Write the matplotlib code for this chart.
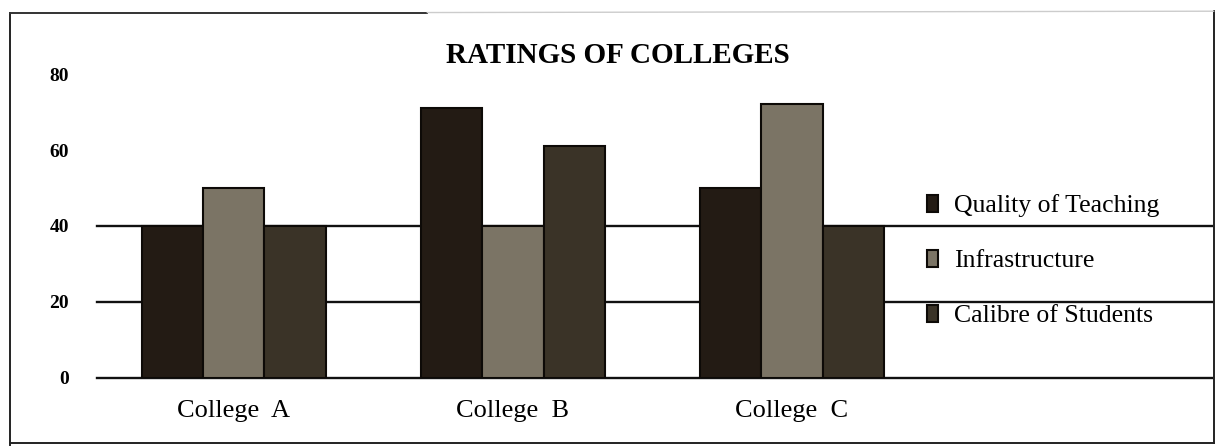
import numpy as np
import matplotlib
matplotlib.use('Agg')
import matplotlib.pyplot as plt
from matplotlib.lines import Line2D

plt.rcParams['font.family'] = ['Liberation Serif', 'DejaVu Serif']

# ratings per college
colleges = ['College  A', 'College  B', 'College  C']
quality = [40, 71, 50]
infrastructure = [50, 40, 72]
calibre = [40, 61, 40]
series_names = ['Quality of Teaching', 'Infrastructure', 'Calibre of Students']
y_ticks = [0, 20, 40, 60, 80]
grid_levels = [0, 20, 40]

colors = ['#231b14', '#7b7465', '#3a3327']

fig = plt.figure(figsize=(12.21, 4.48), dpi=100)
ax = fig.add_axes([0.0794, 0.1563, 0.9132, 0.6785])

x = np.arange(len(colleges))
w = 0.22
for lvl in grid_levels:
    ax.axhline(lvl, color='#111111', lw=1.7, zorder=1, clip_on=False)

for i, vals in enumerate([quality, infrastructure, calibre]):
    ax.bar(x + (i - 1) * w, vals, w, color=colors[i], edgecolor='#0d0a07',
           linewidth=1.5, zorder=2, label=series_names[i])

ax.set_xlim(-0.49, 3.505)
ax.set_ylim(0, 80)
ax.set_yticks(y_ticks)
ax.set_yticklabels([str(v) for v in y_ticks], fontsize=14, fontweight='bold')
ax.set_xticks(x)
ax.set_xticklabels(colleges, fontsize=19)
ax.tick_params(axis='y', length=0, pad=20)
ax.tick_params(axis='x', length=0, pad=16)
for s in ax.spines.values():
    s.set_visible(False)

fig.text(0.506, 0.877, 'RATINGS OF COLLEGES', fontsize=21, fontweight='bold',
         ha='center', va='center')

# legend rows sit in the bands between the horizontal rules
ax.legend(loc='center left', bbox_to_anchor=(0.724, 0.385), frameon=False,
          fontsize=18.5, handlelength=0.42, handleheight=0.68, handletextpad=0.6,
          labelspacing=1.25)

# page border around the chart
fig.add_artist(Line2D([0.008, 0.008], [0.006, 0.972], color='#222222', lw=1.4,
                      transform=fig.transFigure))
fig.add_artist(Line2D([0.008, 0.994], [0.012, 0.012], color='#222222', lw=1.4,
                      transform=fig.transFigure))
fig.add_artist(Line2D([0.994, 0.994], [0.012, 0.975], color='#222222', lw=1.4,
                      transform=fig.transFigure))
fig.add_artist(Line2D([0.008, 0.35], [0.972, 0.972], color='#333333', lw=1.4,
                      transform=fig.transFigure))
fig.add_artist(Line2D([0.35, 0.994], [0.972, 0.975], color='#cccccc', lw=1.0,
                      transform=fig.transFigure))

fig.savefig('out.png', dpi=100)
